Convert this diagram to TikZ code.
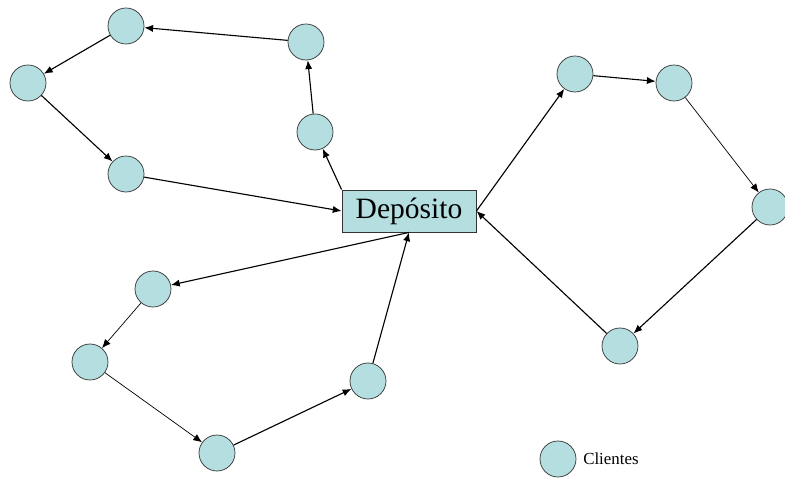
\documentclass[tikz,border=0pt]{standalone}
\usepackage{fontspec}
\setmainfont{Liberation Serif}
\usepackage{tikz}
\usetikzlibrary{arrows.meta}

\definecolor{clientfill}{RGB}{180,222,224}

\begin{document}
\begin{tikzpicture}[x=0.025cm, y=-0.025cm,
		cliente/.style={circle, draw=black!80, fill=clientfill, line width=0.5pt, minimum size=0.9cm, inner sep=0pt},
		deposito/.style={rectangle, draw=black!80, fill=clientfill, line width=0.6pt, minimum width=3.35cm, minimum height=1.05cm, inner sep=0pt, font=\fontsize{21}{24}\selectfont},
		ruta/.style={-{Latex[length=2.2mm, width=1.8mm]}, line width=0.8pt},
		rutafina/.style={-{Latex[length=2.2mm, width=1.8mm]}, line width=0.5pt}]
	\useasboundingbox (0,0) rectangle (785,479);
	% Deposito y clientes:
	\node[deposito] (dep) at (409, 211){Depósito};
	
	\node[cliente] (a) at (126, 26){};
	\node[cliente] (b) at (306, 42){};
	\node[cliente] (c) at (28, 83){};
	\node[cliente] (d) at (315, 132){};
	\node[cliente] (e) at (126, 174){};
	
	\node[cliente] (f) at (575, 74){};
	\node[cliente] (g) at (674, 83){};
	\node[cliente] (h) at (770, 207){};
	\node[cliente] (i) at (620, 346){};
	
	\node[cliente] (j) at (153, 289){};
	\node[cliente] (k) at (90, 362){};
	\node[cliente] (l) at (368, 381){};
	\node[cliente] (m) at (217, 453){};
	
	% Rutas:
	\draw[ruta] (dep.north west) -- (d);
	\draw[ruta] (d) -- (b);
	\draw[ruta] (b) -- (a);
	\draw[ruta] (a) -- (c);
	\draw[ruta] (c) -- (e);
	\draw[ruta] (e) -- (dep.west);
	
	\draw[ruta] (dep.east) -- (f);
	\draw[ruta] (f) -- (g);
	\draw[rutafina] (g) -- (h);
	\draw[ruta] (h) -- (i);
	\draw[ruta] (i) -- (dep.east);
	
	\draw[ruta] (dep.south) -- (j);
	\draw[rutafina] (j) -- (k);
	\draw[rutafina] (k) -- (m);
	\draw[ruta] (m) -- (l);
	\draw[ruta] (l) -- (dep.south);
	
	% Leyenda:
	\node[cliente] (ley) at (558, 459){};
	\node[anchor=west, font=\fontsize{12}{14}\selectfont, inner sep=0pt] (leytxt) at (583, 459){Clientes};
\end{tikzpicture}
\end{document}
